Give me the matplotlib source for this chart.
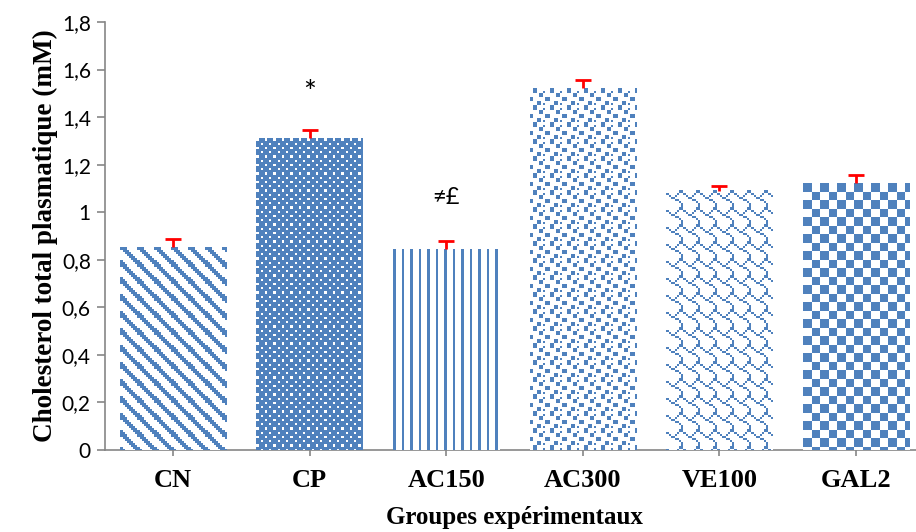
import numpy as np
import matplotlib
matplotlib.use('Agg')
import matplotlib.pyplot as plt

# données
groupes = ['CN', 'CP', 'AC150', 'AC300', 'VE100', 'GAL2']
moyennes = [0.852, 1.311, 0.845, 1.521, 1.090, 1.121]
erreurs = [0.035, 0.033, 0.032, 0.035, 0.019, 0.037]
signes = ['', '*', '≠£', '', '', '']
signe_y = [0, 1.50, 1.06, 0, 0, 0]
yticks = [0, 0.2, 0.4, 0.6, 0.8, 1.0, 1.2, 1.4, 1.6, 1.8]
ytick_labels = ['0', '0,2', '0,4', '0,6', '0,8', '1', '1,2', '1,4', '1,6', '1,8']

bleu = np.array([0x4F, 0x81, 0xBD]) / 255.0
gris = '#868686'

# motifs 8x8 façon Excel (1 = bleu), agrandis d'un facteur ~2.1
motifs = [
    [0xE0, 0x70, 0x38, 0x1C, 0x0E, 0x07, 0x83, 0xC1],   # CN : diagonale large
    [0x77, 0xFF, 0xDD, 0xFF, 0x77, 0xFF, 0xDD, 0xFF],   # CP : 80 %
    [0x88, 0x88, 0x88, 0x88, 0x88, 0x88, 0x88, 0x88],   # AC150 : verticales
    [0x60, 0x62, 0x0C, 0x0C, 0x81, 0x81, 0x18, 0x1A],   # AC300 : confettis
    [0x03, 0x84, 0x48, 0x30, 0x0C, 0x02, 0x01, 0x01],   # VE100 : bardeaux
    [0xF0, 0xF0, 0xF0, 0xF0, 0x0F, 0x0F, 0x0F, 0x0F],   # GAL2 : damier
]
echelle = 2.125


def masque(bits, h, w):
    yy, xx = np.mgrid[0:h, 0:w]
    r = (np.floor(yy / echelle).astype(int)) % 8
    c = (np.floor(xx / echelle).astype(int)) % 8
    lignes = np.array(bits)[r]
    return ((lignes >> (7 - c)) & 1) == 1


fig = plt.figure(figsize=(9.16, 5.32), dpi=100)
ax = fig.add_axes([0.1143, 0.1541, 0.8948, 0.8045])

x = np.arange(len(groupes))
barres = ax.bar(x, moyennes, width=0.78, color='white', edgecolor='none', zorder=2)

ax.set_xlim(-0.5, len(groupes) - 0.5)
ax.set_ylim(0, 1.8)

# textures posées dans chaque barre
fig.canvas.draw()
for b, bits in zip(barres, motifs):
    ext = b.get_window_extent()
    w = int(round(ext.width))
    h = int(round(ext.height))
    m = masque(bits, h, w)
    img = np.ones((h, w, 3))
    img[m] = bleu
    ax.imshow(img, extent=(b.get_x(), b.get_x() + b.get_width(), 0, b.get_height()),
              interpolation='nearest', aspect='auto', zorder=3, clip_path=b)

ax.set_xlim(-0.5, len(groupes) - 0.5)
ax.set_ylim(0, 1.8)

eb = ax.errorbar(x, moyennes, yerr=[np.zeros(len(erreurs)), erreurs], fmt='none',
                 ecolor='red', elinewidth=2, capsize=6, capthick=2, zorder=4)
for cl in eb[1]:
    if np.allclose(cl.get_ydata(), moyennes):
        cl.set_visible(False)

for xi, s, sy in zip(x, signes, signe_y):
    if s:
        taille = 22 if s == '*' else 17
        ax.text(xi, sy, s, ha='center', va='center', fontsize=taille,
                family=['Lato', 'DejaVu Sans'], color='black')

ax.set_yticks(yticks)
ax.set_yticklabels(ytick_labels, family='Lato', fontsize=15)
ax.set_xticks(x)
ax.set_xticklabels(groupes, family='Liberation Serif', fontweight='bold', fontsize=19)

ax.set_ylabel('Cholesterol total plasmatique (mM)', family='Liberation Serif',
              fontweight='bold', fontsize=19.5, labelpad=3)
ax.set_xlabel('Groupes expérimentaux', family='Liberation Serif',
              fontweight='bold', fontsize=18, labelpad=10)

for s in ['top', 'right']:
    ax.spines[s].set_visible(False)
for s in ['left', 'bottom']:
    ax.spines[s].set_color(gris)
    ax.spines[s].set_linewidth(1.2)
ax.tick_params(axis='y', colors=gris, labelcolor='black', length=6, width=1.2, pad=4)
ax.tick_params(axis='x', colors=gris, labelcolor='black', direction='inout',
               length=9, width=1.2, pad=9)

fig.savefig('out.png', dpi=100)
